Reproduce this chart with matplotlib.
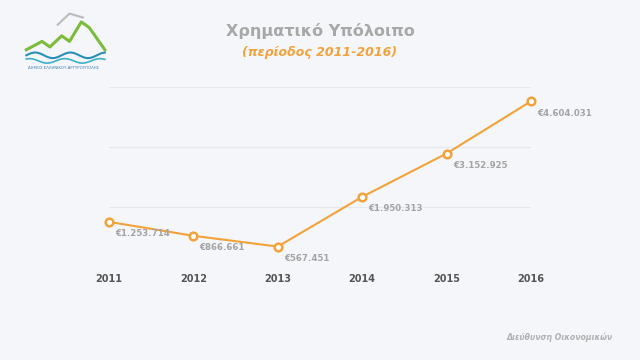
import numpy as np
import matplotlib.pyplot as plt

years = [2011, 2012, 2013, 2014, 2015, 2016]
balance = [1253714, 866661, 567451, 1950313, 3152925, 4604031]
value_labels = ['€1.253.714', '€866.661', '€567.451', '€1.950.313', '€3.152.925', '€4.604.031']

bg = '#f5f6fa'
orange = '#f2a23a'
grey = '#a3a3a3'

fig = plt.figure(figsize=(6.4, 3.6), dpi=100, facecolor=bg)
ax = fig.add_axes([0.1703, 0.2583, 0.6594, 0.5])
ax.set_facecolor(bg)

ax.plot(years, balance, color=orange, lw=1.5, marker='o', ms=5.5,
        mfc='white', mec=orange, mew=1.8, clip_on=False, zorder=3)
for x, y, t in zip(years, balance, value_labels):
    ax.annotate(t, (x, y), xytext=(4.5, -8.5), textcoords='offset points',
                ha='left', va='center', fontsize=6.2, color=grey, fontweight='bold')

ax.set_xlim(2011, 2016)
ax.set_ylim(0, 5000000)
ax.set_yticks(np.linspace(0, 5000000, 4))
ax.yaxis.grid(True, color='#e6e8ee', lw=0.9)
ax.set_yticklabels([])
ax.tick_params(length=0)
ax.set_xticks(years)
ax.set_xticklabels([str(y) for y in years], fontsize=7, fontweight='bold', color='#555555')
ax.tick_params(axis='x', pad=5)
for s in ax.spines.values():
    s.set_visible(False)

fig.text(0.5, 0.913, 'Χρηματικό Υπόλοιπο', ha='center', va='center',
         fontsize=11.5, fontweight='bold', color='#a8a8a8')
fig.text(0.5, 0.853, '(περίοδος 2011-2016)', ha='center', va='center',
         fontsize=9, fontweight='bold', style='italic', color=orange)
fig.text(0.957, 0.063, 'Διεύθυνση Οικονομικών', ha='right', va='center',
         fontsize=5.6, fontweight='bold', style='italic', color='#b0b0b0')

# logo (rough sketch)
lg = fig.add_axes([0.035, 0.8, 0.135, 0.17])
lg.set_facecolor(bg)
lg.axis('off')
lg.plot([0.0, 0.2, 0.3, 0.45, 0.55, 0.7, 0.8, 1.0], [0.3, 0.45, 0.35, 0.55, 0.45, 0.8, 0.7, 0.3],
        color='#7dbb3c', lw=2.2, solid_joinstyle='round')
t = np.linspace(0, 1, 60)
lg.plot(t, 0.2 + 0.05 * np.sin(t * 14), color='#2a8fb8', lw=1.5)
lg.plot(t, 0.1 + 0.04 * np.sin(t * 14 + 1), color='#3bb0c9', lw=1.2)
lg.plot([0.4, 0.55, 0.72], [0.75, 0.95, 0.88], color='#bbbbbb', lw=1.5)
lg.set_xlim(-0.05, 1.05)
lg.set_ylim(-0.1, 1)
fig.text(0.1, 0.81, 'ΔΗΜΟΣ ΕΛΛΗΝΙΚΟΥ-ΑΡΓΥΡΟΥΠΟΛΗΣ', ha='center', va='center',
         fontsize=2.8, color='#3b7fb0')

fig.savefig('out.png', dpi=100, facecolor=bg)
